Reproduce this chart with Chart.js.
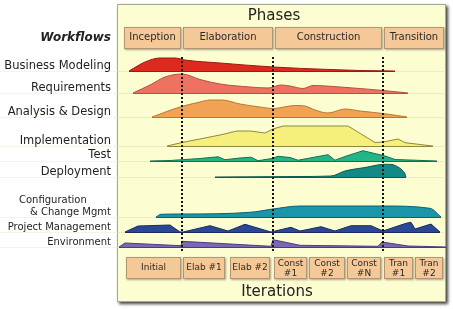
<!DOCTYPE html>
<html>
<head>
<meta charset="utf-8">
<script src="https://cdn.jsdelivr.net/npm/chart.js@4"></script>
<style>
  html, body { margin: 0; padding: 0; background: #fff; }
  #wrap { width: 453px; height: 309px; }
</style>
</head>
<body>
<div id="wrap"><canvas id="rupChart" width="453" height="309"></canvas></div>
<script>
// ======================================
// Data (x = project day, y = lane / effort)
// ======================================

const workflows = [
    "Business Modeling", "Requirements", "Analysis & Design",
    "Implementation", "Test", "Deployment",
    "Configuration\n& Change Mgmt", "Project Management", "Environment"
];

const laneBase = [71, 93, 117, 146, 161, 177, 217, 232, 247];

const bmDays     = [11, 27, 42, 57, 67, 102, 155, 212, 242, 277];
const bmEffort   = [0, 9, 13, 13, 11, 8, 4, 1.5, 0.5, 0];

const reqDays    = [15, 32, 47, 64, 82, 102, 132, 150, 163, 172, 185, 195, 222, 265, 290];
const reqEffort  = [0, 8, 16, 19, 13.5, 9, 6, 5, 8, 7, 4.5, 7.5, 6, 2.5, 0];

const adDays     = [34, 62, 82, 92, 104, 122, 142, 155, 177, 187, 197, 210, 227, 242, 265, 289];
const adEffort   = [0, 10, 15, 17, 17, 13, 10, 8.5, 11.5, 11, 7, 4, 8, 6, 3.5, 0];

const implDays   = [49, 64, 102, 119, 132, 147, 155, 165, 230, 257, 265, 280, 287, 302, 315];
const implEffort = [0, 3.5, 11, 15, 15, 13, 17, 20, 20, 3.5, 4, 7, 3.3, 1.5, 0];

const testDays   = [32, 52, 64, 82, 100, 107, 122, 133, 140, 154, 160, 172, 180, 210, 217, 227, 245, 267, 277, 319];
const testEffort = [0, 0.5, 1.3, 2.5, 4.2, 1.3, 3, 3.8, 0.3, 2.5, 4.7, 3.5, 0.8, 6.3, 0.8, 4.5, 10.3, 5, 1.5, 0];

const depDays    = [97, 182, 213, 227, 247, 267, 274, 280, 284, 287, 288];
const depEffort  = [0, 0.5, 1, 6, 9.5, 12.7, 12.5, 10, 7, 3, 0];

const cmDays     = [38, 43, 64, 132, 155, 182, 265, 312, 323];
const cmEffort   = [0, 2.7, 3, 4.7, 8, 11, 11, 8.7, 0];

const pmDays     = [7, 20, 52, 62, 65, 92, 110, 127, 153, 173, 182, 203, 217, 233, 253, 265, 288, 293, 297, 313, 322];
const pmEffort   = [0, 6, 7, 0, 0, 6.3, 1, 7.7, 0, 4.7, 1, 5.3, 1, 6.3, 6.3, 1, 8.7, 9.7, 3, 8, 0];

const envDays    = [1, 7, 63, 64, 153, 155, 182, 260, 264, 290, 328];
const envEffort  = [0, 4, 1.3, 5.7, 0.7, 7.3, 1.7, 0.7, 5, 1, 0];

const phaseNames = ["Inception", "Elaboration", "Construction", "Transition"];
const phaseStart = [6, 65, 157, 266];
const phaseEnd   = [63, 155, 264, 326];

const iterNames  = ["Initial", "Elab #1", "Elab #2", "Const\n#1", "Const\n#2", "Const\n#N", "Tran\n#1", "Tran\n#2"];
const iterStart  = [8, 65, 112, 156, 191, 229, 266, 297];
const iterEnd    = [63, 107, 152, 189, 227, 263, 295, 325];

const milestones = [64, 155, 265];

// ======================================
// Styles
// ======================================

const fills   = ["#DE2A1E", "#EE7262", "#F2A254", "#F7EF7C", "#22B587", "#148A86", "#1A96A8", "#2B4896", "#7A68B6"];
const borders = ["#9C1A10", "#B5503F", "#B57A34", "#8C8A3E", "#127050", "#0B5A58", "#0D6272", "#1A2A60", "#4B3C80"];
const smooth  = [true, true, true, false, false, true, true, false, false];

const allDays   = [bmDays, reqDays, adDays, implDays, testDays, depDays, cmDays, pmDays, envDays];
const allEffort = [bmEffort, reqEffort, adEffort, implEffort, testEffort, depEffort, cmEffort, pmEffort, envEffort];

const datasets = workflows.map((name, i) => ({
    label: name,
    data: allDays[i].map((d, j) => ({ x: d, y: laneBase[i] - allEffort[i][j] })),
    fill: { value: laneBase[i] },
    backgroundColor: fills[i],
    borderColor: borders[i],
    borderWidth: 1,
    pointRadius: 0,
    cubicInterpolationMode: smooth[i] ? "monotone" : "default",
    tension: 0
}));

// ======================================
// Decorations plugin
// ======================================

function drawBox(ctx, x0, x1, y0, y1){
    ctx.save();
    ctx.shadowColor = "rgba(0,0,0,0.35)";
    ctx.shadowBlur = 2;
    ctx.shadowOffsetX = 1;
    ctx.shadowOffsetY = 1;
    ctx.fillStyle = "#F5C898";
    ctx.fillRect(x0, y0, x1 - x0, y1 - y0);
    ctx.restore();
    ctx.strokeStyle = "#B39474";
    ctx.lineWidth = 1;
    ctx.strokeRect(x0 + 0.5, y0 + 0.5, x1 - x0 - 1, y1 - y0 - 1);
}

const rupDecor = {
    id: "rupDecor",

    beforeDatasetsDraw(chart){
        const { ctx, chartArea: a, scales: { x, y } } = chart;
        const top = y.getPixelForValue(4);
        const bottom = y.getPixelForValue(302);

        ctx.save();
        ctx.shadowColor = "rgba(0,0,0,0.75)";
        ctx.shadowBlur = 3;
        ctx.shadowOffsetX = 2;
        ctx.shadowOffsetY = 2;
        ctx.fillStyle = "#FDFDD2";
        ctx.fillRect(a.left - 1, top, a.right - a.left + 1, bottom - top);
        ctx.restore();

        ctx.strokeStyle = "#A8A890";
        ctx.lineWidth = 1;
        ctx.strokeRect(a.left - 0.5, top + 0.5, a.right - a.left, bottom - top - 1);

        // faint lane lines
        laneBase.forEach(b => {
            const py = Math.round(y.getPixelForValue(b)) + 0.5;
            ctx.strokeStyle = "rgba(235,235,200,0.5)";
            ctx.beginPath();
            ctx.moveTo(0, py);
            ctx.lineTo(a.left, py);
            ctx.stroke();
            ctx.strokeStyle = "rgba(215,215,170,0.45)";
            ctx.beginPath();
            ctx.moveTo(a.left, py);
            ctx.lineTo(a.right, py);
            ctx.stroke();
        });
    },

    afterDatasetsDraw(chart){
        const { ctx, chartArea: a, scales: { x, y } } = chart;

        // baselines
        laneBase.forEach((b, i) => {
            const d = allDays[i];
            const py = Math.round(y.getPixelForValue(b)) + 0.5;
            ctx.strokeStyle = borders[i];
            ctx.lineWidth = 1;
            ctx.beginPath();
            ctx.moveTo(x.getPixelForValue(d[0]), py);
            ctx.lineTo(x.getPixelForValue(d[d.length - 1]), py);
            ctx.stroke();
        });

        // milestone dotted lines
        ctx.save();
        ctx.strokeStyle = "#151515";
        ctx.lineWidth = 2;
        ctx.setLineDash([2, 2]);
        milestones.forEach(m => {
            const px = Math.round(x.getPixelForValue(m));
            ctx.beginPath();
            ctx.moveTo(px, y.getPixelForValue(57));
            ctx.lineTo(px, y.getPixelForValue(251));
            ctx.stroke();
        });
        ctx.restore();

        // phase boxes
        ctx.font = "10px 'DejaVu Sans'";
        ctx.textAlign = "center";
        ctx.textBaseline = "middle";
        phaseNames.forEach((p, i) => {
            const x0 = x.getPixelForValue(phaseStart[i]);
            const x1 = x.getPixelForValue(phaseEnd[i]);
            drawBox(ctx, x0, x1, y.getPixelForValue(27), y.getPixelForValue(49));
            ctx.fillStyle = "#2a2a2a";
            ctx.fillText(p, (x0 + x1) / 2, y.getPixelForValue(37.5));
        });

        // iteration boxes
        ctx.font = "9px 'DejaVu Sans'";
        iterNames.forEach((it, i) => {
            const x0 = x.getPixelForValue(iterStart[i]);
            const x1 = x.getPixelForValue(iterEnd[i]);
            drawBox(ctx, x0, x1, y.getPixelForValue(257), y.getPixelForValue(279));
            ctx.fillStyle = "#2a2a2a";
            const lines = it.split("\n");
            const cx = (x0 + x1) / 2;
            if(lines.length === 1)
                ctx.fillText(lines[0], cx, y.getPixelForValue(268));
            else {
                ctx.fillText(lines[0], cx, y.getPixelForValue(263.5));
                ctx.fillText(lines[1], cx, y.getPixelForValue(273.5));
            }
        });

        // titles
        ctx.fillStyle = "#222";
        ctx.font = "15px 'DejaVu Sans'";
        ctx.fillText("Phases", x.getPixelForValue(156), y.getPixelForValue(16));
        ctx.fillText("Iterations", x.getPixelForValue(159), y.getPixelForValue(292));

        // workflow labels
        const right = a.left - 7;
        ctx.textAlign = "right";
        ctx.font = "italic bold 12px 'DejaVu Sans'";
        ctx.fillText("Workflows", right, y.getPixelForValue(38));

        workflows.forEach((w, i) => {
            ctx.fillStyle = "#1E1E1E";
            ctx.font = (i < 6 ? "11.5px" : "10px") + " 'DejaVu Sans'";
            const lines = w.split("\n");
            const off = i === 4 ? 6 : 4.5;
            if(lines.length === 1){
                ctx.textAlign = "right";
                ctx.fillText(w, right, y.getPixelForValue(laneBase[i] - off));
            } else {
                ctx.textAlign = "left";
                ctx.fillText(lines[0], right - 92, y.getPixelForValue(laneBase[i] - 17));
                ctx.textAlign = "right";
                ctx.fillText(lines[1], right, y.getPixelForValue(laneBase[i] - 5));
            }
        });
    }
};

// ======================================
// Chart
// ======================================

new Chart(document.getElementById("rupChart"), {
    type: "line",
    data: { datasets },
    options: {
        responsive: false,
        animation: false,
        layout: { padding: { left: 118, right: 7, top: 0, bottom: 0 } },
        scales: {
            x: { type: "linear", min: 0, max: 328, display: false },
            y: { type: "linear", min: 0, max: 309, reverse: true, display: false }
        },
        plugins: {
            legend: { display: false },
            tooltip: { enabled: false }
        }
    },
    plugins: [rupDecor]
});
</script>
</body>
</html>
